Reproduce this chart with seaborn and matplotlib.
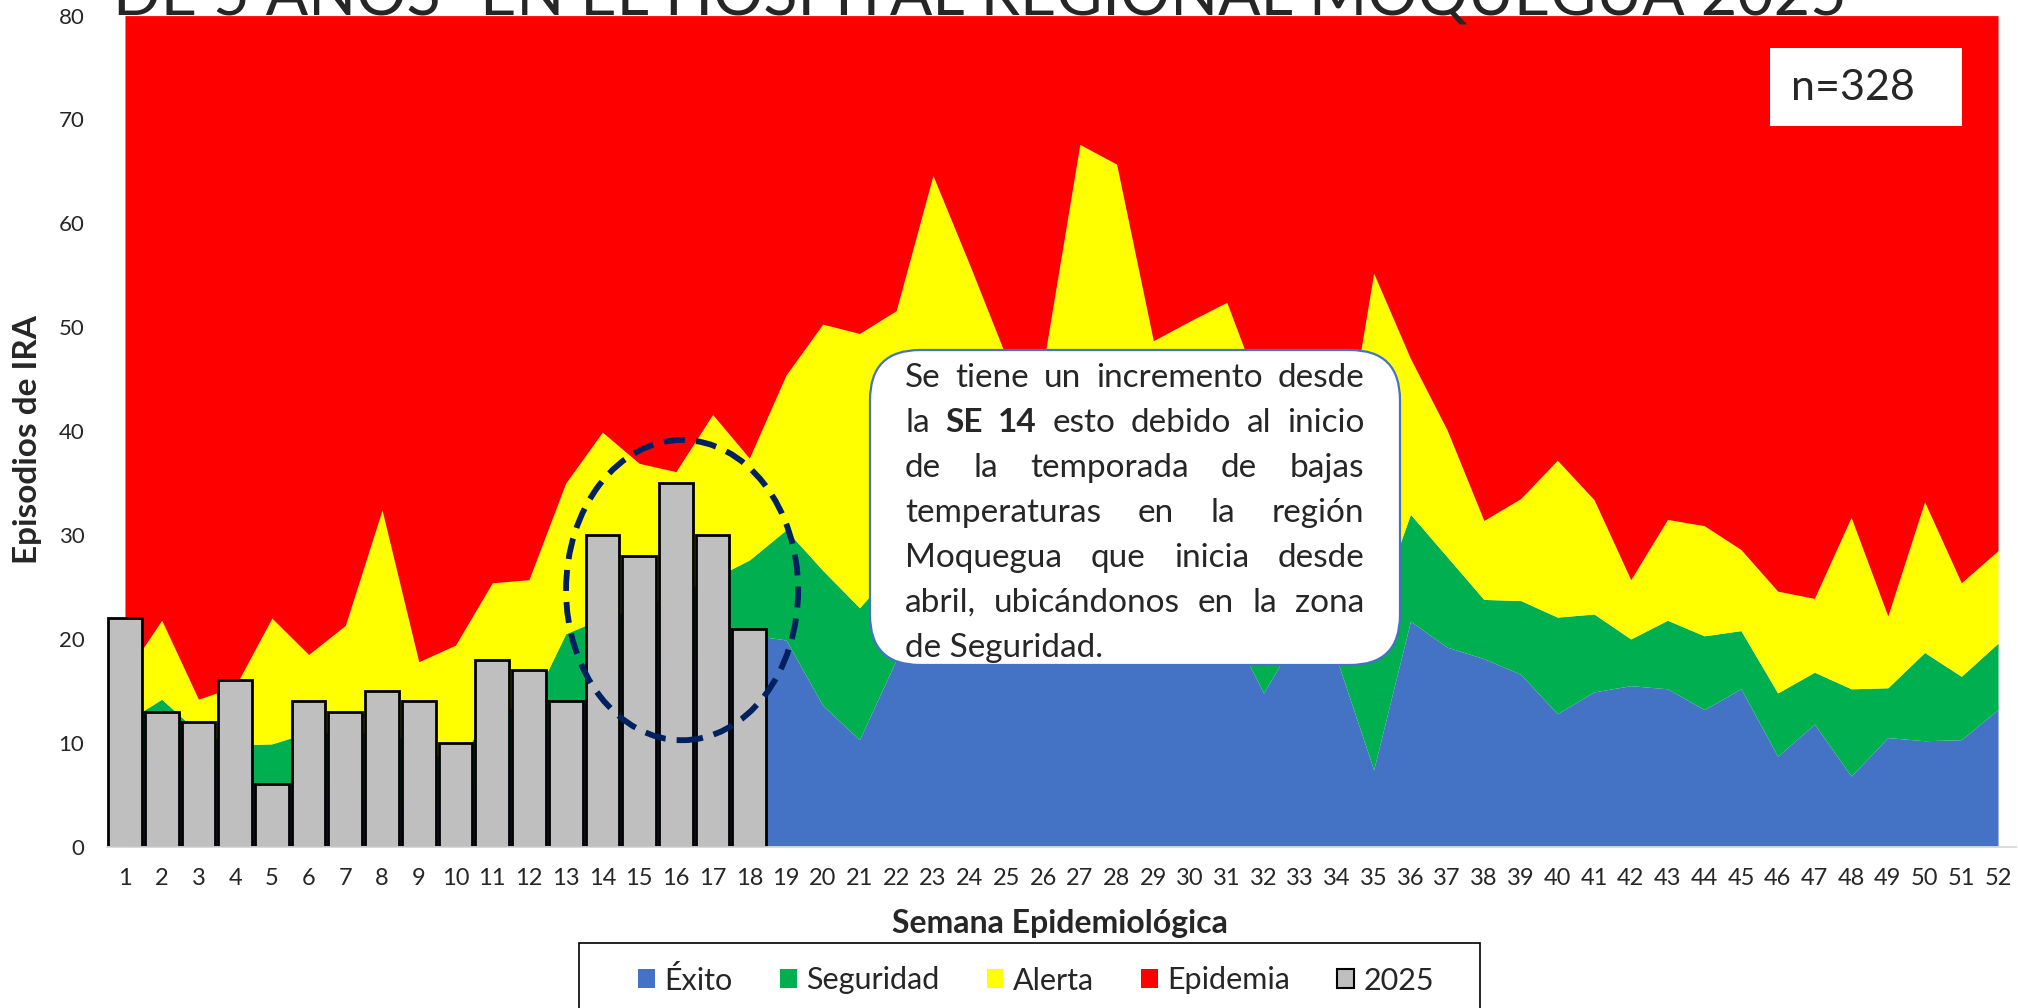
import matplotlib
matplotlib.use('Agg')
import matplotlib.pyplot as plt
from matplotlib.patches import Ellipse, FancyBboxPatch, Rectangle, Patch
from matplotlib.transforms import IdentityTransform
import seaborn as sns
import numpy as np
import pandas as pd

sns.set_style('white')
plt.rcParams['font.family'] = ['Lato', 'DejaVu Sans']

# ── data ──
weeks = list(range(1, 53))
y_top = 80

# upper limit of each zone (corredor endémico)
exito_top = [9.0, 8.3, 7.3, 6.3, 5.5, 6.0, 5.5, 4.2, 4.0, 3.8,
             6.5, 9.5, 12.5, 15.5, 17.5, 18.5, 19.5, 20.4, 19.9, 13.6,
             10.3, 18.0, 21.0, 22.0, 21.0, 20.5, 23.0, 22.0, 20.5, 21.0,
             21.8, 14.8, 20.8, 18.0, 7.4, 21.7, 19.2, 18.1, 16.6, 12.8,
             14.9, 15.5, 15.2, 13.2, 15.2, 8.7, 11.8, 6.8, 10.5, 10.2,
             10.3, 13.2]
seguridad_top = [12.0, 14.2, 11.0, 9.8, 9.9, 11.0, 11.0, 10.8, 10.2, 7.5,
                 13.5, 13.2, 20.5, 22.0, 23.0, 24.5, 25.8, 27.6, 30.5, 26.6,
                 23.0, 27.0, 30.0, 31.0, 29.0, 28.0, 32.0, 31.0, 29.0, 30.0,
                 29.0, 26.0, 25.0, 24.0, 22.0, 32.0, 27.9, 23.8, 23.7, 22.1,
                 22.4, 20.0, 21.8, 20.3, 20.8, 14.8, 16.8, 15.2, 15.3, 18.7,
                 16.4, 19.6]
alerta_top = [16.5, 21.8, 14.2, 15.4, 22.0, 18.5, 21.3, 32.4, 17.8, 19.4,
              25.4, 25.7, 35.0, 39.9, 36.9, 36.1, 41.6, 37.4, 45.4, 50.3,
              49.4, 51.6, 64.6, 56.0, 47.1, 46.3, 67.6, 65.7, 48.7, 50.6,
              52.4, 43.0, 38.0, 34.0, 55.2, 47.0, 40.1, 31.4, 33.5, 37.2,
              33.4, 25.7, 31.5, 30.9, 28.6, 24.6, 23.9, 31.7, 22.2, 33.2,
              25.4, 28.5]

weeks_2025 = list(range(1, 19))
cases_2025 = [22, 13, 12, 16, 6, 14, 13, 15, 14, 10, 18, 17, 14, 30, 28, 35, 30, 21]

zone_labels = ['Éxito', 'Seguridad', 'Alerta', 'Epidemia']
zone_colors = ['#4472C4', '#00B050', '#FFFF00', '#FF0000']
bar_color = '#BFBFBF'

title_text = 'DE 5 AÑOS" EN EL HOSPITAL REGIONAL MOQUEGUA 2025'
note_lines = [
    [('Se', False), ('tiene', False), ('un', False), ('incremento', False), ('desde', False)],
    [('la', False), ('SE', True), ('14', True), ('esto', False), ('debido', False), ('al', False), ('inicio', False)],
    [('de', False), ('la', False), ('temporada', False), ('de', False), ('bajas', False)],
    [('temperaturas', False), ('en', False), ('la', False), ('región', False)],
    [('Moquegua', False), ('que', False), ('inicia', False), ('desde', False)],
    [('abril,', False), ('ubicándonos', False), ('en', False), ('la', False), ('zona', False)],
]
note_last = 'de Seguridad.'

# ── figure ──
W, H = 2018, 1008
fig = plt.figure(figsize=(W / 100, H / 100), dpi=100)
ax = fig.add_axes([106.6 / W, 161.3 / H, 1909.8 / W, 831.1 / H])
px = IdentityTransform()

lo = np.array(exito_top)
mid = np.array(seguridad_top)
hi = np.array(alerta_top)
layers = [lo, mid - lo, hi - mid, y_top - hi]
ax.stackplot(weeks, *layers, colors=zone_colors, linewidth=0, zorder=1)

df_bars = pd.DataFrame({'semana': weeks_2025, 'casos': cases_2025})
sns.barplot(data=df_bars, x='semana', y='casos', native_scale=True, width=0.92,
            color=bar_color, saturation=1, edgecolor='black', linewidth=2.0,
            errorbar=None, ax=ax, zorder=2)

ax.add_patch(Ellipse((16.17, 24.7), 6.32, 28.9, fill=False, edgecolor='#002060',
                     lw=4.2, linestyle=(0, (3.6, 1.9)), zorder=5))

ax.set_xlim(0.5, 52.5)
ax.set_ylim(0, 80)
ax.set_xticks(weeks)
ax.set_xticklabels([str(w) for w in weeks])
ax.set_xticks(np.arange(0.5, 53, 1), minor=True)
ax.set_yticks(range(0, 81, 10))
ax.tick_params(axis='x', which='major', length=0, pad=15, labelsize=17)
ax.tick_params(axis='x', which='minor', length=7, color='#D9D9D9', width=1.2)
ax.tick_params(axis='y', length=0, pad=16, labelsize=16)
ax.set_xlabel('')
ax.set_ylabel('')
for s in ['top', 'right', 'left']:
    ax.spines[s].set_visible(False)
ax.spines['bottom'].set_color('#D9D9D9')
ax.spines['bottom'].set_linewidth(1.3)

# axis titles
fig.text(28, H - 440, 'Episodios de IRA', transform=px, rotation=90, ha='center',
         va='center', fontsize=24, fontweight='bold')
fig.text(1060, H - 923, 'Semana Epidemiológica', transform=px, ha='center',
         va='center', fontsize=23, fontweight='bold')

renderer = fig.canvas.get_renderer()

# cut-off title at the very top
title = fig.text(113, H - 14, title_text, transform=px, ha='left', va='baseline',
                 fontsize=40)
tw = title.get_window_extent(renderer).width
title.set_fontsize(40 * 1734 / tw)

# n box
fig.add_artist(Rectangle((1770, H - 126), 192, 78, transform=px, facecolor='white',
                         edgecolor='none', zorder=3))
fig.text(1791, H - 88, 'n=328', transform=px, ha='left', va='center',
         fontsize=31, zorder=4)

# annotation box with justified text
fig.add_artist(FancyBboxPatch((870, H - 665), 530, 315, transform=px,
                              boxstyle='round,pad=0,rounding_size=50',
                              facecolor='white', edgecolor='#4472C4', lw=1.6, zorder=3))
note_fs = 24
x0, x1 = 905, 1364
baselines = [387, 432, 477, 522, 567, 612]
for words, yb in zip(note_lines, baselines):
    arts = [fig.text(0, H - yb, w, transform=px, ha='left', va='baseline',
                     fontsize=note_fs, fontweight='bold' if b else 'normal', zorder=4)
            for w, b in words]
    widths = [a.get_window_extent(renderer).width for a in arts]
    gap = (x1 - x0 - sum(widths)) / (len(arts) - 1)
    x = x0
    for a, wd in zip(arts, widths):
        a.set_x(x)
        x += wd + gap
fig.text(x0, H - 657, note_last, transform=px, ha='left', va='baseline',
         fontsize=note_fs, zorder=4)

# legend
handles = [Patch(facecolor=c, edgecolor='none') for c in zone_colors]
handles.append(Patch(facecolor=bar_color, edgecolor='black', linewidth=1.5))
fig.legend(handles, zone_labels + ['2025'], loc='center',
           bbox_to_anchor=(1036 / W, (H - 980) / H), ncol=5, frameon=False,
           fontsize=22, handlelength=0.55, handleheight=0.55, handletextpad=0.3,
           columnspacing=1.55)
fig.add_artist(Rectangle((579, -5), 901, H - 943 + 5, transform=px, fill=False,
                         edgecolor='black', lw=1.2, zorder=3))

fig.savefig('out.png', dpi=100, facecolor='white')
